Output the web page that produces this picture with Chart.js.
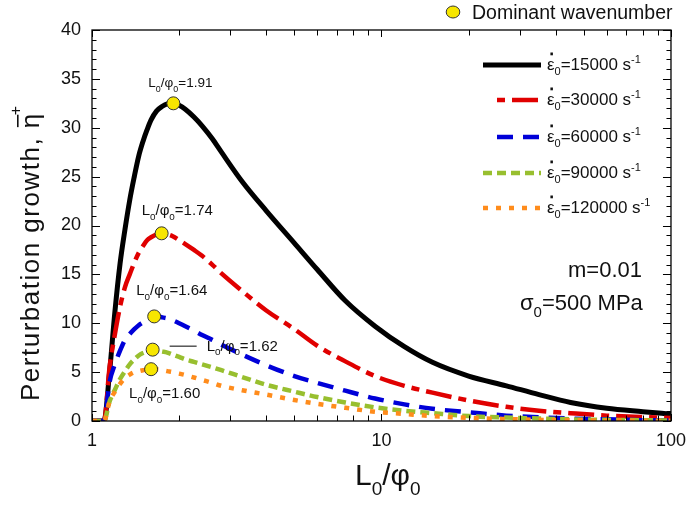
<!DOCTYPE html>
<html>
<head>
<meta charset="utf-8">
<script src="https://cdn.jsdelivr.net/npm/chart.js@4.4.0/dist/chart.umd.min.js"></script>
<style>
  html, body { margin: 0; padding: 0; background: #fff; }
  #wrap { width: 695px; height: 506px; }
</style>
</head>
<body>
<div id="wrap"><canvas id="growthChart" width="695" height="506"></canvas></div>
<script>
// ─── DATA ────────────────────────────────────────────────────────────────────
// L0/phi0 sample points (log axis)
const L_VALUES = [1.0, 1.1, 1.15, 1.2, 1.25, 1.3, 1.35, 1.4, 1.45, 1.5, 1.55, 1.6, 1.67, 1.75, 1.82, 1.9, 2.0, 2.1, 2.25, 2.4, 2.6, 2.8, 3.3, 4.0, 5.0, 6.0, 7.5, 9.5, 12, 15, 20, 27, 35, 45, 60, 80, 100];

// perturbation growth per strain rate
const ETA_15000  = [0, 0, 5.0, 11.2, 16.1, 19.6, 22.6, 25.0, 27.1, 28.6, 29.8, 30.8, 31.7, 32.2, 32.45, 32.5, 32.3, 31.9, 31.1, 30.2, 28.9, 27.5, 24.5, 21.5, 18.2, 15.5, 12.3, 9.7, 7.6, 6.0, 4.6, 3.6, 2.7, 1.9, 1.3, 0.95, 0.7];
const ETA_30000  = [0, 0, 5.5, 8.9, 11.7, 13.7, 15.0, 16.2, 17.2, 17.9, 18.5, 18.8, 19.1, 19.2, 19.1, 18.9, 18.5, 18.1, 17.5, 16.9, 16.0, 15.1, 13.3, 11.3, 9.4, 7.7, 6.1, 4.6, 3.6, 2.9, 2.1, 1.45, 1.05, 0.8, 0.55, 0.4, 0.3];
const ETA_60000  = [0, 0, 4.0, 5.8, 7.2, 8.3, 8.9, 9.4, 9.8, 10.1, 10.4, 10.6, 10.7, 10.6, 10.5, 10.3, 10.0, 9.7, 9.25, 8.8, 8.3, 7.8, 6.8, 5.7, 4.6, 3.9, 3.1, 2.3, 1.7, 1.25, 0.9, 0.55, 0.38, 0.25, 0.17, 0.08, 0.05];
const ETA_90000  = [0, 0, 2.0, 3.2, 4.3, 5.1, 5.8, 6.3, 6.7, 6.95, 7.1, 7.2, 7.2, 7.1, 7.0, 6.8, 6.55, 6.3, 6.05, 5.8, 5.5, 5.2, 4.5, 3.7, 3.0, 2.45, 1.9, 1.4, 1.05, 0.8, 0.5, 0.35, 0.25, 0.17, 0.12, 0.08, 0.05];
const ETA_120000 = [0, 0, 2.0, 3.0, 3.8, 4.4, 4.75, 5.0, 5.1, 5.2, 5.25, 5.3, 5.28, 5.2, 5.1, 5.0, 4.85, 4.7, 4.45, 4.2, 3.9, 3.6, 3.15, 2.7, 2.15, 1.75, 1.35, 0.95, 0.72, 0.5, 0.32, 0.2, 0.12, 0.08, 0.05, 0.03, 0.02];

const RATES = ['15000', '30000', '60000', '90000', '120000'];

// dominant wavenumber (peak) of each curve
const PEAK_L   = [1.91, 1.74, 1.64, 1.62, 1.60];
const PEAK_ETA = [32.5, 19.2, 10.7, 7.3, 5.3];

// axis ticks
const X_TICKS  = [1, 2, 3, 4, 5, 6, 7, 8, 9, 10, 20, 30, 40, 50, 60, 70, 80, 90, 100];
const X_LABELS = [1, 10, 100];
const Y_STEP   = 1;
const Y_LABEL_STEP = 5;

// ─── STYLE ───────────────────────────────────────────────────────────────────
const FONT = "'Liberation Sans', Arial, Helvetica, sans-serif";
const TEXT = '#111';
const YELLOW = '#f7e600';

const SERIES_STYLE = [
  { color: '#000000', width: 5,   dash: [] },
  { color: '#e00000', width: 4.5, dash: [26, 7, 8, 7], legendOffset: 33 },
  { color: '#0000d8', width: 4.5, dash: [16, 10] },
  { color: '#98bf2f', width: 4.5, dash: [9, 5] },
  { color: '#ff8c1c', width: 4.5, dash: [5, 8] },
];

// label offsets from the peak marker (px)
const PEAK_LABEL_POS = [
  { dx: -25, dy: -16, size: 13.5 },
  { dx: -20, dy: -18, size: 15 },
  { dx: -18, dy: -21, size: 15 },
  { dx: 54,  dy: 1,   size: 15, leader: [17, 44] },
  { dx: -22, dy: 29,  size: 15 },
];

// ─── HELPERS ─────────────────────────────────────────────────────────────────
function richText(ctx, x, y, parts) {
  parts.forEach(p => {
    ctx.font = `${p.size}px ${FONT}`;
    ctx.fillText(p.t, x, y + (p.dy || 0));
    x += ctx.measureText(p.t).width;
  });
  return x;
}

function ratioParts(size, tail) {
  const sub = size * 0.66;
  return [
    { t: 'L', size },
    { t: '0', size: sub, dy: size * 0.32 },
    { t: '/', size },
    { t: 'φ', size },
    { t: '0', size: sub, dy: size * 0.32 },
    { t: tail, size },
  ];
}

function toPoints(ys) {
  return L_VALUES.map((x, i) => ({ x, y: ys[i] }));
}

// ─── DATASETS ────────────────────────────────────────────────────────────────
const CURVES = [ETA_15000, ETA_30000, ETA_60000, ETA_90000, ETA_120000];

const datasets = CURVES.map((ys, i) => ({
  label: RATES[i],
  data: toPoints(ys),
  borderColor: SERIES_STYLE[i].color,
  borderWidth: SERIES_STYLE[i].width,
  borderDash: SERIES_STYLE[i].dash,
  borderCapStyle: 'butt',
  pointRadius: 0,
  cubicInterpolationMode: 'monotone',
  fill: false,
  order: 5 - i,
}));

datasets.push({
  label: 'Dominant wavenumber',
  data: PEAK_L.map((x, i) => ({ x, y: PEAK_ETA[i] })),
  showLine: false,
  pointRadius: 6.5,
  pointBackgroundColor: YELLOW,
  pointBorderColor: '#333',
  pointBorderWidth: 1,
  order: 0,
});

// ─── PLUGINS ─────────────────────────────────────────────────────────────────
const frameTicks = {
  id: 'frameTicks',
  afterDatasetsDraw(chart) {
    const { ctx, chartArea: a, scales: { x, y } } = chart;
    ctx.save();
    ctx.strokeStyle = '#000';
    ctx.lineWidth = 1.3;
    ctx.strokeRect(a.left, a.top, a.right - a.left, a.bottom - a.top);

    ctx.lineWidth = 1;
    ctx.beginPath();
    x.ticks.forEach(t => {
      const px = Math.round(x.getPixelForValue(t.value)) + 0.5;
      const len = X_LABELS.includes(t.value) ? 7 : 5.5;
      ctx.moveTo(px, a.bottom); ctx.lineTo(px, a.bottom - len);
      ctx.moveTo(px, a.top);    ctx.lineTo(px, a.top + len);
    });
    y.ticks.forEach(t => {
      const py = Math.round(y.getPixelForValue(t.value)) + 0.5;
      const len = t.value % Y_LABEL_STEP === 0 ? 8 : 4.5;
      ctx.moveTo(a.left, py);  ctx.lineTo(a.left + len, py);
      ctx.moveTo(a.right, py); ctx.lineTo(a.right - len, py);
    });
    ctx.stroke();
    ctx.restore();
  }
};

const annotations = {
  id: 'annotations',
  afterDraw(chart) {
    const { ctx, scales: { x, y } } = chart;
    ctx.save();
    ctx.fillStyle = TEXT;
    ctx.textBaseline = 'alphabetic';
    ctx.textAlign = 'left';

    // peak labels
    PEAK_L.forEach((l, i) => {
      const p = PEAK_LABEL_POS[i];
      const px = x.getPixelForValue(l);
      const py = y.getPixelForValue(PEAK_ETA[i]);
      richText(ctx, px + p.dx, py + p.dy, ratioParts(p.size, '=' + l.toFixed(2)));
      if (p.leader) {
        ctx.strokeStyle = '#000';
        ctx.lineWidth = 1;
        ctx.beginPath();
        ctx.moveTo(px + p.leader[0], py - 3.5);
        ctx.lineTo(px + p.leader[1], py - 3.5);
        ctx.stroke();
      }
    });

    // top marker legend
    ctx.fillStyle = YELLOW;
    ctx.strokeStyle = '#333';
    ctx.lineWidth = 1;
    ctx.beginPath();
    ctx.ellipse(453, 12, 6.8, 6, 0, 0, Math.PI * 2);
    ctx.fill();
    ctx.stroke();
    ctx.fillStyle = TEXT;
    ctx.font = `19.5px ${FONT}`;
    ctx.fillText('Dominant wavenumber', 472, 19);

    // series legend
    const rowY = [65, 100, 137, 173, 208];
    RATES.forEach((r, i) => {
      const s = SERIES_STYLE[i];
      const ly = rowY[i];
      const x0 = (i === 1 || i === 2) ? 497 : 483;
      ctx.save();
      ctx.strokeStyle = s.color;
      ctx.lineWidth = s.width;
      ctx.lineCap = 'butt';
      ctx.setLineDash(s.dash);
      ctx.lineDashOffset = s.legendOffset || 0;
      ctx.beginPath();
      ctx.moveTo(x0, ly);
      ctx.lineTo(541, ly);
      ctx.stroke();
      ctx.restore();

      const base = ly + 5;
      ctx.font = `17px ${FONT}`;
      const ex = 547;
      ctx.fillText('ε', ex, base);
      const ew = ctx.measureText('ε').width;
      ctx.fillRect(ex + ew * 0.45, base - 17.5, 2.5, 2.8);
      richText(ctx, ex + ew, base, [
        { t: '0', size: 11, dy: 5 },
        { t: '=' + r + ' s', size: 17 },
        { t: '-1', size: 11, dy: -7.5 },
      ]);
    });

    // parameters
    ctx.font = `22px ${FONT}`;
    ctx.fillText('m=0.01', 568, 277);
    richText(ctx, 520, 310, [
      { t: 'σ', size: 22 },
      { t: '0', size: 15, dy: 7 },
      { t: '=500 MPa', size: 22 },
    ]);

    // x title
    richText(ctx, 355, 485, [
      { t: 'L', size: 30 },
      { t: '0', size: 19, dy: 10 },
      { t: '/', size: 30 },
      { t: 'φ', size: 30 },
      { t: '0', size: 19, dy: 10 },
    ]);

    // y title (rotated)
    ctx.translate(39, 401);
    ctx.rotate(-Math.PI / 2);
    ctx.font = `26px ${FONT}`;
    ctx.letterSpacing = '1.5px';
    const head = 'Perturbation growth, ';
    ctx.fillText(head, 0, 0);
    const hw = ctx.measureText(head).width;
    ctx.letterSpacing = '0px';
    ctx.fillText('η', hw, 0);
    const etaW = ctx.measureText('η').width;
    ctx.fillRect(hw + 1, -22, etaW - 2, 1.6);
    ctx.font = `16px ${FONT}`;
    ctx.textAlign = 'center';
    ctx.textBaseline = 'middle';
    ctx.fillText('+', hw + etaW + 3, -22);
    ctx.restore();
  }
};

// ─── CHART ───────────────────────────────────────────────────────────────────
const ctx = document.getElementById('growthChart').getContext('2d');

new Chart(ctx, {
  type: 'line',
  data: { datasets },
  options: {
    responsive: false,
    animation: false,
    layout: { padding: { top: 30, right: 17, left: 0, bottom: 0 } },
    plugins: {
      legend: { display: false },
      tooltip: { enabled: false },
    },
    scales: {
      x: {
        type: 'logarithmic',
        min: 1,
        max: 100,
        grid: { display: false, drawTicks: false },
        border: { display: false },
        afterBuildTicks: s => { s.ticks = X_TICKS.map(value => ({ value })); },
        afterFit: s => { s.height = 85; },
        ticks: {
          autoSkip: false,
          maxRotation: 0,
          padding: 9,
          color: TEXT,
          font: { family: FONT, size: 18 },
          callback: v => X_LABELS.includes(v) ? String(v) : '',
        },
      },
      y: {
        min: 0,
        max: 40,
        grid: { display: false, drawTicks: false },
        border: { display: false },
        afterFit: s => { s.width = 92; },
        ticks: {
          stepSize: Y_STEP,
          autoSkip: false,
          padding: 11,
          color: TEXT,
          font: { family: FONT, size: 18 },
          callback: v => v % Y_LABEL_STEP === 0 ? String(v) : '',
        },
      },
    },
  },
  plugins: [frameTicks, annotations],
});
</script>
</body>
</html>
